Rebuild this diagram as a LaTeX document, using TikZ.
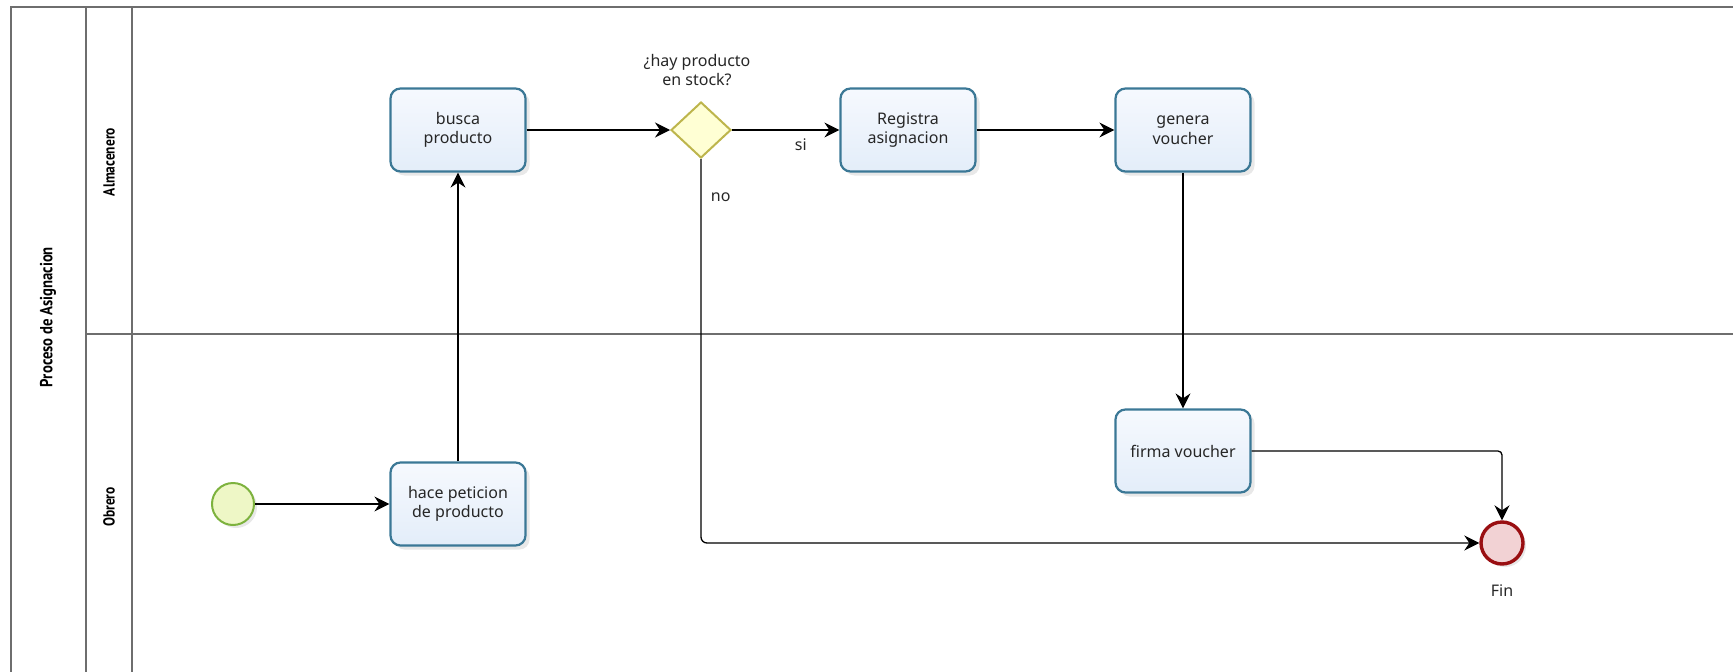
\documentclass[tikz,border=0pt]{standalone}
\usepackage{fontspec}
\setmainfont{Noto Sans}
\newfontfamily\lanefont[FakeStretch=0.84]{PT Sans}
\usepackage{tikz}
\usetikzlibrary{shadows}
\usetikzlibrary{positioning}
\usetikzlibrary{arrows.meta,shapes.geometric}
\definecolor{taskline}{HTML}{3B7896}
\definecolor{taskfill}{HTML}{E3EDF9}
\definecolor{tasktop}{HTML}{F6F9FE}
\definecolor{startline}{HTML}{7DB23E}
\definecolor{startfill}{HTML}{EEF7C6}
\definecolor{endline}{HTML}{9A0F12}
\definecolor{endfill}{HTML}{F2D2D4}
\definecolor{gateline}{HTML}{BDB54C}
\definecolor{gatefill}{HTML}{FFFFD4}
\definecolor{laneline}{HTML}{6E6E6E}
\tikzstyle{lane}=[draw=laneline,line width=1.4pt]
\tikzstyle{lanelabel}=[rotate=90,text=black,font=\lanefont\bfseries\fontsize{16}{18}\selectfont]
\tikzstyle{task}=[rectangle,rounded corners=10pt,draw=taskline,line width=2.2pt,top color=tasktop,bottom color=taskfill,minimum width=135pt,minimum height=83pt,align=center,drop shadow={opacity=0.18,shadow xshift=4pt,shadow yshift=-4pt}]
\tikzstyle{startevent}=[circle,draw=startline,line width=2pt,fill=startfill,minimum size=42pt,inner sep=0pt,drop shadow={opacity=0.18,shadow xshift=3pt,shadow yshift=-3pt}]
\tikzstyle{endevent}=[circle,draw=endline,line width=3.4pt,fill=endfill,minimum size=42pt,inner sep=0pt,drop shadow={opacity=0.18,shadow xshift=3pt,shadow yshift=-3pt}]
\tikzstyle{gateway}=[diamond,draw=gateline,line width=2pt,fill=gatefill,minimum width=60pt,minimum height=56pt,inner sep=0pt]
\tikzstyle{flow}=[draw,line width=1.3pt,-{Stealth[length=15pt,width=15pt,inset=5pt]}]
\tikzstyle{caption}=[align=center,text=black!85]

\begin{document}
\begin{tikzpicture}[x=1pt,y=-1pt,font=\fontsize{16}{19.5}\selectfont,text=black!85]
    \useasboundingbox (0,0) rectangle (1733,672);
    % pool with its two lanes
    \draw[lane] (1733,7) -- (11,7) -- (11,672);
    \draw[lane] (86,7) -- (86,672);
    \draw[lane] (132,7) -- (132,672);
    \draw[lane] (86,334) -- (1733,334);
    \node[lanelabel,font=\lanefont\bfseries\fontsize{17.5}{20}\selectfont] (pool) at (48,317) {Proceso de Asignacion};
    \node[lanelabel] (almacenero) at (109,162) {Almacenero};
    \node[lanelabel] (obrero) at (109,507) {Obrero};

    % events, tasks and the gateway
    \node[startevent] (start) at (233,504) {};
    \node[task] (peticion) at (458,504) {hace peticion\\de producto};
    \node[task] (busca) at (458,130) {busca\\producto};
    \node[gateway] (stock) at (701,130) {};
    \node[caption] (pregunta) at (697,70) {¿hay producto\\en stock?};
    \node[task] (registra) at (908,130) {Registra\\asignacion};
    \node[task] (genera) at (1183,130) {genera\\voucher};
    \node[task] (firma) at (1183,451) {firma voucher};
    \node[endevent] (fin) at (1502,543) {};
    \node[caption] (finlabel) at (1502,591) {Fin};

    % sequence flows
    \path[flow] (start) -- (peticion);
    \path[flow] (peticion) -- (busca);
    \path[flow] (busca) -- (stock);
    \path[flow] (stock) -- node[pos=0.64,below=5pt] {si} (registra);
    \path[flow] (registra) -- (genera);
    \path[flow] (genera) -- (firma);
    \path[flow,rounded corners=4pt] (firma.east) -| (fin.north);
    \path[flow,rounded corners=6pt] (stock.south) |- node[pos=0.05,right=6pt] {no} (fin.west);
\end{tikzpicture}
\end{document}
